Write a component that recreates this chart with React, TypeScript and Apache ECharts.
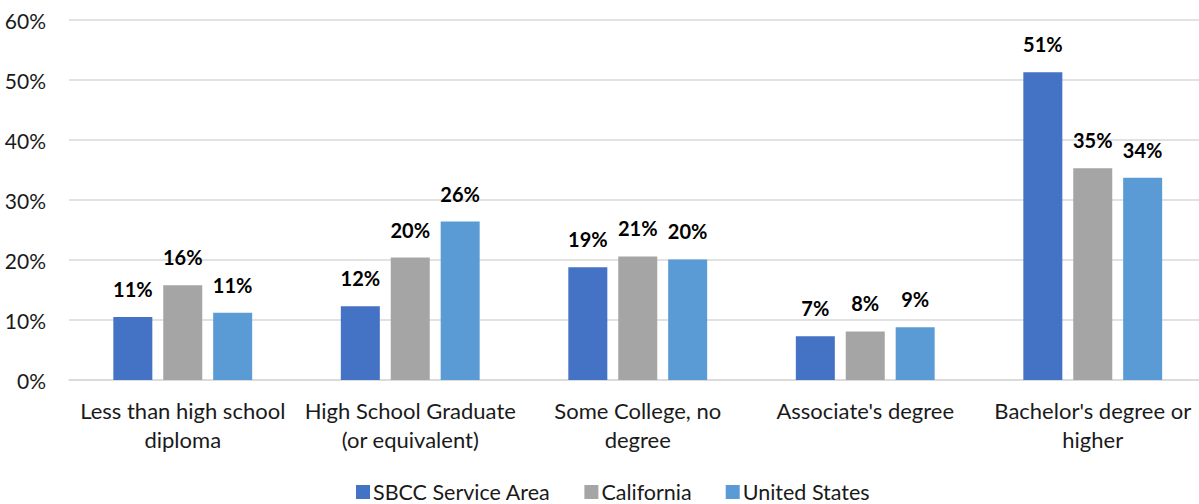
import React, { useEffect, useRef } from "react";
import * as echarts from "echarts";

const categories = [
  "Less than high school\ndiploma",
  "High School Graduate\n(or equivalent)",
  "Some College, no\ndegree",
  "Associate's degree",
  "Bachelor's degree or\nhigher",
];
const sbcc = [10.5, 12.3, 18.8, 7.3, 51.3];
const california = [15.8, 20.4, 20.6, 8.1, 35.3];
const unitedStates = [11.2, 26.4, 20.1, 8.8, 33.7];
const seriesNames = ["SBCC Service Area", "California", "United States"];
const colors = ["#4472C4", "#A5A5A5", "#5B9BD5"];

const FONT = "Lato";

export default function App() {
  const ref = useRef<HTMLDivElement>(null);
  useEffect(() => {
    if (!ref.current) return;
    const chart = echarts.init(ref.current, undefined, { renderer: "svg" });
    const data = [sbcc, california, unitedStates];
    chart.setOption({
      animation: false,
      textStyle: { fontFamily: FONT },
      grid: { left: 69, width: 1137.5, top: 20, height: 360, containLabel: false },
      legend: {
        top: 476,
        left: 351,
        itemWidth: 14,
        itemHeight: 14,
        itemGap: 34,
        icon: "rect",
        textStyle: { fontFamily: FONT, fontSize: 21.5, lineHeight: 22, color: "#1a1a1a", padding: [0, 0, 0, -2] },
        data: seriesNames,
      },
      xAxis: {
        type: "category",
        data: categories,
        axisLine: { show: true, lineStyle: { color: "#D9D9D9", width: 1.5 } },
        axisTick: { show: false },
        axisLabel: {
          fontFamily: FONT,
          fontSize: 22,
          color: "#1a1a1a",
          lineHeight: 29,
          margin: 16,
          interval: 0,
        },
      },
      yAxis: {
        type: "value",
        min: 0,
        max: 60,
        interval: 10,
        axisLine: { show: false },
        axisTick: { show: false },
        splitLine: { lineStyle: { color: "#D9D9D9", width: 1.5 } },
        axisLabel: {
          fontFamily: FONT,
          fontSize: 21,
          color: "#1a1a1a",
          margin: 23,
          formatter: "{value}%",
        },
      },
      series: seriesNames.map((name, i) => ({
        name,
        type: "bar",
        data: data[i],
        barWidth: 39,
        barGap: "28%",
        itemStyle: { color: colors[i] },
        label: {
          show: true,
          position: "top",
          distance: 18,
          fontFamily: FONT,
          fontSize: 20,
          fontWeight: "bold",
          lineHeight: 20,
          color: "#000",
          formatter: (p: any) => Math.round(p.value) + "%",
        },
      })),
    });
    return () => chart.dispose();
  }, []);
  return (
    <div
      style={{ position: "absolute", left: 0, top: 0, width: 1199, height: 504, overflow: "hidden", background: "#fff" }}
    >
      <div ref={ref} style={{ width: 1215, height: 504 }} />
    </div>
  );
}
